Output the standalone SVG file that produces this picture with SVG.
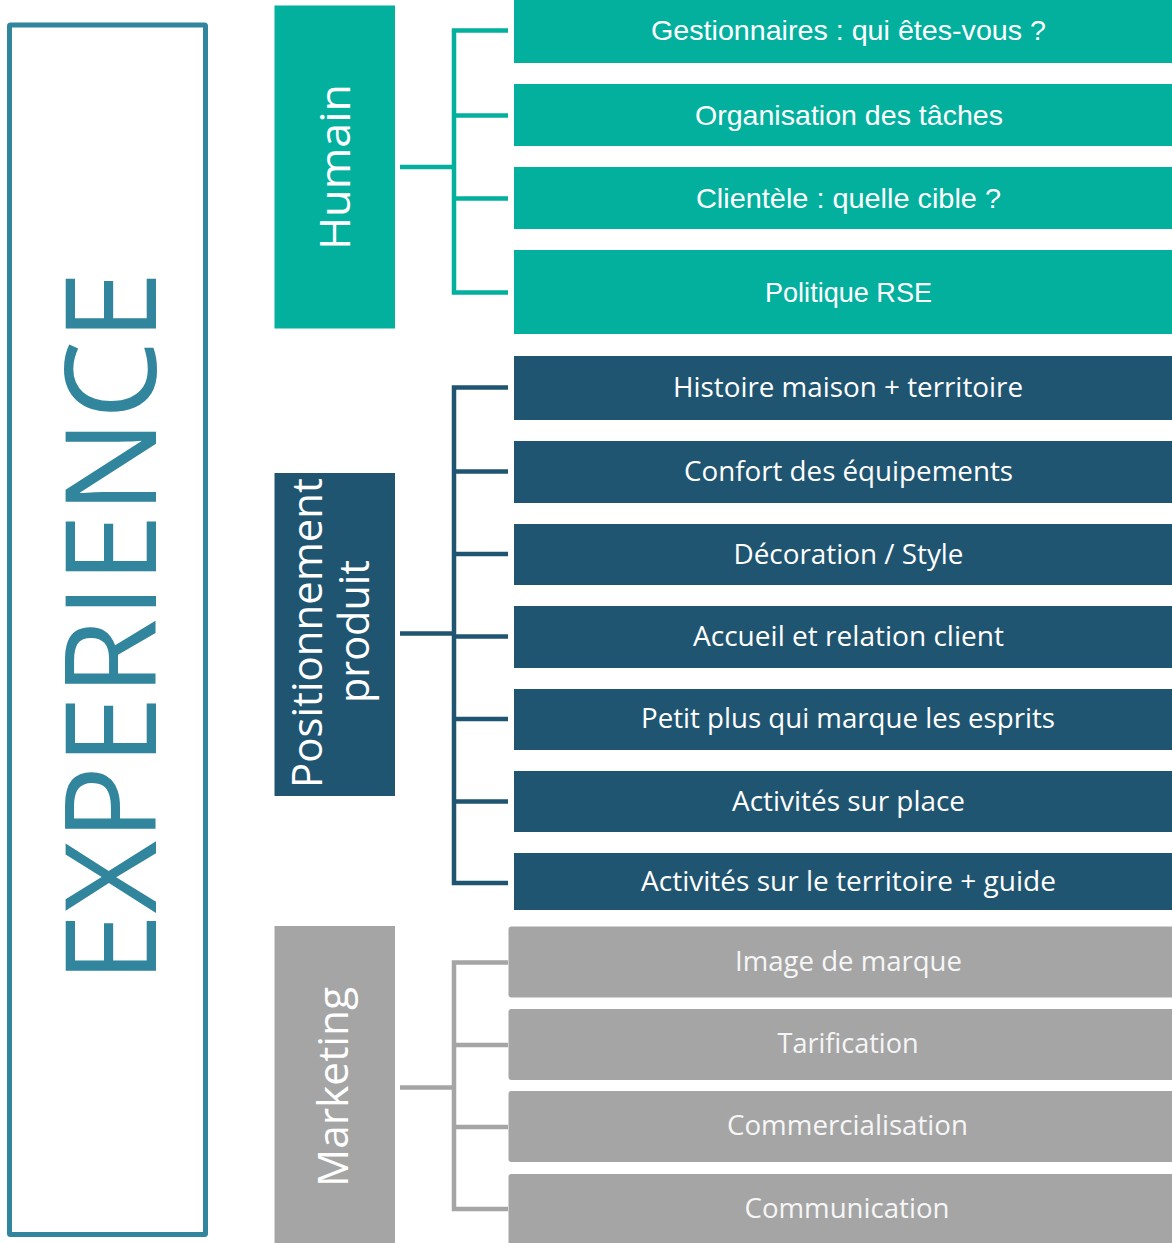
<svg xmlns="http://www.w3.org/2000/svg" width="1172" height="1243" viewBox="0 0 1172 1243">
<style>
.teal{fill:#03B09E}
.dark{fill:#1F5571}
.gray{fill:#A5A5A5}
.lt{font-family:"Liberation Sans",Arial,sans-serif;font-size:28px;fill:#FFFFFF;text-anchor:middle}
.lo{font-family:"Open Sans","Liberation Sans",sans-serif;font-size:27.5px;fill:#FFFFFF;text-anchor:middle}
.lg{font-family:"Open Sans","Liberation Sans",sans-serif;font-size:27.5px;fill:#F6F6F6;text-anchor:middle}
.rot{font-family:"Open Sans","Liberation Sans",sans-serif;font-size:42px;fill:#FFFFFF;text-anchor:middle}
.cT{stroke:#03B09E;stroke-width:4.5;fill:none}
.cD{stroke:#1F5571;stroke-width:4.5;fill:none}
.cG{stroke:#A5A5A5;stroke-width:4.5;fill:none}
</style>
<rect width="1172" height="1243" fill="#FFFFFF"/>

<g id="experience">
<rect x="9.5" y="25" width="196" height="1209.5" fill="none" stroke="#31859C" stroke-width="5" rx="1"/>
<text transform="translate(156,627) rotate(-90)" x="0" y="0" font-family="Open Sans, Liberation Sans, sans-serif" font-size="127" fill="#31859C" text-anchor="middle" textLength="712" lengthAdjust="spacingAndGlyphs">EXPERIENCE</text>
</g>

<g id="connectors">
<path class="cT" d="M400,167 H454 M508,30.5 H454 V292.5 H508 M454,115.5 H508 M454,198.5 H508"/>
<path class="cD" d="M400,633.5 H454 M508,387.5 H454 V883 H508 M454,471.5 H508 M454,554 H508 M454,636.5 H508 M454,719 H508 M454,801.5 H508"/>
<path class="cG" d="M400,1087.5 H454 M508,962.5 H454 V1209 H508 M454,1045 H508 M454,1127 H508"/>
</g>

<g id="humain">
<rect class="teal" x="274.5" y="5.5" width="120.5" height="323"/>
<text class="rot" transform="translate(350,167) rotate(-90)" textLength="166" lengthAdjust="spacingAndGlyphs">Humain</text>
</g>
<g id="h1"><rect class="teal" x="514" y="-5" width="660" height="68"/><text class="lt" x="848.5" y="40" textLength="395" lengthAdjust="spacingAndGlyphs">Gestionnaires : qui êtes-vous ?</text></g>
<g id="h2"><rect class="teal" x="514" y="84" width="660" height="62"/><text class="lt" x="849" y="125" textLength="308" lengthAdjust="spacingAndGlyphs">Organisation des tâches</text></g>
<g id="h3"><rect class="teal" x="514" y="167" width="660" height="62"/><text class="lt" x="848.5" y="207.5" textLength="305" lengthAdjust="spacingAndGlyphs">Clientèle : quelle cible ?</text></g>
<g id="h4"><rect class="teal" x="514" y="250" width="660" height="84"/><text class="lt" x="848.5" y="302" textLength="167" lengthAdjust="spacingAndGlyphs">Politique RSE</text></g>

<g id="positionnement">
<rect class="dark" x="274.5" y="473" width="120.5" height="323"/>
<text class="rot" transform="translate(322,633) rotate(-90)" textLength="310" lengthAdjust="spacingAndGlyphs">Positionnement</text>
<text class="rot" transform="translate(369,631.5) rotate(-90)" textLength="143" lengthAdjust="spacingAndGlyphs">produit</text>
</g>
<g id="p1"><rect class="dark" x="514" y="356" width="660" height="64"/><text class="lo" x="848" y="397" textLength="350" lengthAdjust="spacingAndGlyphs">Histoire maison + territoire</text></g>
<g id="p2"><rect class="dark" x="514" y="441" width="660" height="62"/><text class="lo" x="848.5" y="481" textLength="329" lengthAdjust="spacingAndGlyphs">Confort des équipements</text></g>
<g id="p3"><rect class="dark" x="514" y="524" width="660" height="61"/><text class="lo" x="848.5" y="563.5" textLength="230" lengthAdjust="spacingAndGlyphs">Décoration / Style</text></g>
<g id="p4"><rect class="dark" x="514" y="606" width="660" height="62"/><text class="lo" x="848.5" y="645.5" textLength="311" lengthAdjust="spacingAndGlyphs">Accueil et relation client</text></g>
<g id="p5"><rect class="dark" x="514" y="689" width="660" height="61"/><text class="lo" x="848" y="728" textLength="414" lengthAdjust="spacingAndGlyphs">Petit plus qui marque les esprits</text></g>
<g id="p6"><rect class="dark" x="514" y="771" width="660" height="61"/><text class="lo" x="848.5" y="810.5" textLength="233" lengthAdjust="spacingAndGlyphs">Activités sur place</text></g>
<g id="p7"><rect class="dark" x="514" y="853" width="660" height="57"/><text class="lo" x="848.5" y="890.5" textLength="415" lengthAdjust="spacingAndGlyphs">Activités sur le territoire + guide</text></g>

<g id="marketing">
<rect class="gray" x="274.5" y="926" width="120.5" height="320"/>
<text class="rot" transform="translate(348,1087) rotate(-90)" textLength="200" lengthAdjust="spacingAndGlyphs">Marketing</text>
</g>
<g id="m1"><rect class="gray" x="508.5" y="926.5" width="670" height="71" rx="3"/><text class="lg" x="848.5" y="971" textLength="227" lengthAdjust="spacingAndGlyphs">Image de marque</text></g>
<g id="m2"><rect class="gray" x="508.5" y="1009" width="670" height="71" rx="3"/><text class="lg" x="848" y="1052.7" textLength="141" lengthAdjust="spacingAndGlyphs">Tarification</text></g>
<g id="m3"><rect class="gray" x="508.5" y="1091" width="670" height="71" rx="3"/><text class="lg" x="847.5" y="1135" textLength="241" lengthAdjust="spacingAndGlyphs">Commercialisation</text></g>
<g id="m4"><rect class="gray" x="508.5" y="1174" width="670" height="75" rx="3"/><text class="lg" x="847" y="1217.7" textLength="205" lengthAdjust="spacingAndGlyphs">Communication</text></g>
</svg>
